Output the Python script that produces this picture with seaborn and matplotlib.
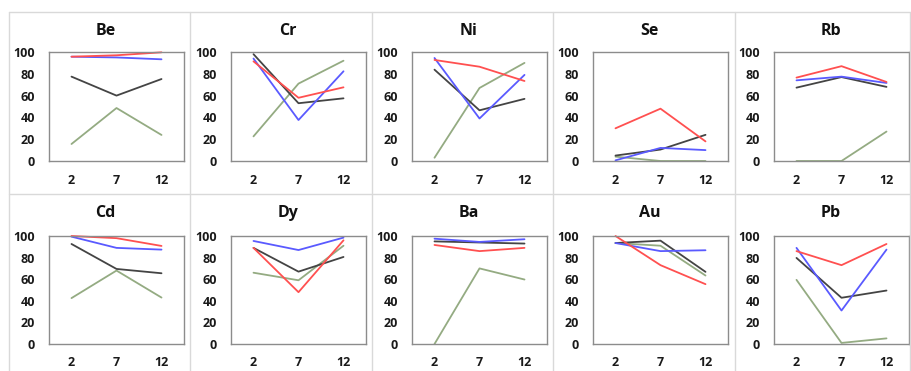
import matplotlib
matplotlib.use("Agg")
import matplotlib.pyplot as plt
import seaborn as sns
import pandas as pd
from matplotlib.lines import Line2D

# ---------------- data ----------------
elements = ["Be", "Cr", "Ni", "Se", "Rb", "Cd", "Dy", "Ba", "Au", "Pb"]
x_vals = [2, 7, 12]
x_labels = ["2", "7", "12"]
y_ticks = [0, 20, 40, 60, 80, 100]

red_vals = [
    [95.7, 97, 99.7],    # Be
    [91.4, 58, 67.6],    # Cr
    [92.7, 86.5, 73.4],  # Ni
    [30, 48, 18],        # Se
    [76.5, 87, 72.5],    # Rb
    [100, 98, 90.8],     # Cd
    [89, 48, 96],        # Dy
    [91.7, 86, 89],      # Ba
    [100, 73, 55.4],     # Au
    [86, 73, 92.6],      # Pb
]
blue_vals = [
    [95.7, 95, 93.3],
    [94, 37.6, 82.3],
    [94.5, 39, 79],
    [0.6, 12, 10],
    [74, 77.4, 71.6],
    [99.4, 89, 87.4],
    [95.4, 87, 98.5],
    [97.5, 94.5, 97],
    [93.5, 86, 86.8],
    [89, 31, 87.4],
]
black_vals = [
    [77.4, 60, 75.2],
    [98, 53, 57.5],
    [83.8, 46.5, 57],
    [5, 10.5, 24],
    [67.3, 77, 68],
    [92.6, 69.5, 65.5],
    [89, 67, 80.6],
    [95, 94, 93],
    [93.5, 95.7, 66.8],
    [79.7, 42.8, 49.5],
]
green_vals = [
    [15.6, 48.6, 23.9],
    [22.6, 71, 92],
    [3, 67, 90],
    [4, 0, 0],
    [0, 0, 27],
    [42.5, 68, 43],
    [66, 59, 91],
    [0, 70, 59.7],
    [93.5, 91, 63.4],
    [59.4, 1, 5.2],
]

series_names = ["green", "black", "blue", "red"]
palette = {"red": "#ff5050", "blue": "#5a5aff", "black": "#444444", "green": "#94ab82"}

# ---------------- layout ----------------
sns.set_style("white")
plt.rcParams["font.family"] = ["Open Sans", "DejaVu Sans"]

W, H = 911, 371
fig = plt.figure(figsize=(W / 100, H / 100), dpi=100)

col_lefts = [49, 231, 412, 593, 774]
box_w = 135
rows = [(52, 161), (236, 344)]  # (top, bottom) in pixels

# cell frames (light gray)
frame_col = "#d9d9d9"
vx = [9, 190, 372, 553, 735, 910]
for x in vx:
    fig.add_artist(Line2D([x / W, x / W], [0, 1 - 12 / H], color=frame_col, lw=1))
for y in [12, 194]:
    fig.add_artist(Line2D([9 / W, 910 / W], [1 - y / H, 1 - y / H], color=frame_col, lw=1))

for i, el in enumerate(elements):
    r, c = divmod(i, 5)
    top, bot = rows[r]
    ax = fig.add_axes([col_lefts[c] / W, 1 - bot / H, box_w / W, (bot - top) / H])
    vals = {"red": red_vals[i], "blue": blue_vals[i], "black": black_vals[i], "green": green_vals[i]}
    df = pd.DataFrame(
        [{"x": x, "y": v, "s": s} for s in series_names for x, v in zip(x_vals, vals[s])]
    )
    sns.lineplot(data=df, x="x", y="y", hue="s", hue_order=series_names,
                 palette=palette, ax=ax, legend=False, linewidth=1.3, clip_on=False)
    ax.set_xlim(-0.5, 14.5)
    ax.set_ylim(0, 100)
    ax.set_xticks(x_vals)
    ax.set_xticklabels(x_labels)
    ax.set_yticks(y_ticks)
    ax.set_xlabel("")
    ax.set_ylabel("")
    ax.tick_params(axis="both", length=0, labelsize=9, colors="#1a1a1a")
    ax.tick_params(axis="x", pad=9)
    ax.tick_params(axis="y", pad=10)
    for lab in ax.get_xticklabels() + ax.get_yticklabels():
        lab.set_fontweight("bold")
    for sp in ax.spines.values():
        sp.set_visible(True)
        sp.set_color("#8c8c8c")
        sp.set_linewidth(1.0)
    ax.set_title(el, x=0.42, pad=12 if r == 0 else 14, fontsize=11.5,
                 fontweight="bold", color="#111111")

fig.savefig("out.png", dpi=100)
